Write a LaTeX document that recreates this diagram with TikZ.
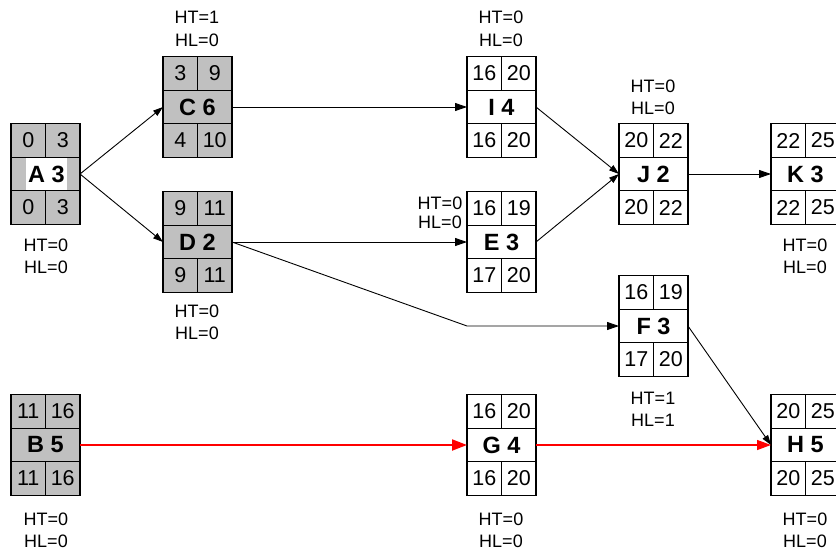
\documentclass[tikz,border=0pt]{standalone}
\usepackage{fontspec}
\setmainfont{Liberation Sans}
\usetikzlibrary{arrows.meta}
\definecolor{boxgray}{HTML}{C0C0C0}
\definecolor{pertred}{HTML}{FF0000}
\tikzset{
 cell/.style={draw=black, line width=1.1pt, minimum width=34.5pt, minimum height=33.5pt, inner sep=0pt, outer sep=0pt, font=\fontsize{21.5}{23}\selectfont},
 midcell/.style={cell, minimum width=69pt, font=\fontsize{23.5}{26}\selectfont\bfseries},
 lbl/.style={font=\fontsize{18}{20}\selectfont, inner sep=0pt},
 arr/.style={draw=black, line width=0.9pt, -{Triangle[length=12pt,width=8pt]}},
 darr/.style={draw=black, line width=0.9pt, -{Triangle[length=10pt,width=6.5pt]}},
 crit/.style={draw=pertred, line width=2pt, -{Triangle[length=15pt,width=11pt,color=pertred]}},
 critthin/.style={draw=pertred, line width=1.3pt, -{Triangle[length=14pt,width=10pt,color=pertred]}},
}
\newcommand\actbox[9]{%
 \node[midcell, fill=#4] (#1) at (#2,#3) {#7};
 \node[cell, fill=#4, anchor=south east] (#1-es) at (#1.north) {#5};
 \node[cell, fill=#4, anchor=south west] (#1-ef) at (#1.north) {#6};
 \node[cell, fill=#4, anchor=north east] (#1-ls) at (#1.south) {#8};
 \node[cell, fill=#4, anchor=north west] (#1-lf) at (#1.south) {#9};
}
\begin{document}
\begin{tikzpicture}[x=1pt,y=-1pt]
\useasboundingbox[fill=white] (0,0) rectangle (836,552);
% boxes
\actbox{A}{45.5}{174}{boxgray}{0}{3}{}{0}{3}
\node[fill=white, minimum width=41pt, minimum height=32pt, inner sep=0pt, font=\fontsize{23.5}{26}\selectfont\bfseries] (A-t) at (46.5,174) {A 3};
\actbox{C}{197.5}{107}{boxgray}{3}{9}{C 6}{4}{10}
\actbox{D}{197.5}{242}{boxgray}{9}{11}{D 2}{9}{11}
\actbox{I}{501.5}{107}{white}{16}{20}{I 4}{16}{20}
\actbox{E}{501.5}{242}{white}{16}{19}{E 3}{17}{20}
\actbox{J}{653.5}{174}{white}{20}{22}{J 2}{20}{22}
\actbox{K}{805.5}{174}{white}{22}{25}{K 3}{22}{25}
\actbox{F}{653.5}{326}{white}{16}{19}{F 3}{17}{20}
\actbox{B}{45.5}{445}{boxgray}{11}{16}{B 5}{11}{16}
\actbox{G}{501.5}{445}{white}{16}{20}{G 4}{16}{20}
\actbox{H}{805.5}{445}{white}{20}{25}{H 5}{20}{25}
% labels
\node[lbl] (A-ht) at (46,245) {HT=0};
\node[lbl] (A-hl) at (46,267) {HL=0};
\node[lbl] (C-ht) at (197,17) {HT=1};
\node[lbl] (C-hl) at (197,40) {HL=0};
\node[lbl] (D-ht) at (197,311) {HT=0};
\node[lbl] (D-hl) at (197,333) {HL=0};
\node[lbl] (I-ht) at (501,17) {HT=0};
\node[lbl] (I-hl) at (501,40) {HL=0};
\node[lbl] (E-ht) at (440,203) {HT=0};
\node[lbl] (E-hl) at (440,222) {HL=0};
\node[lbl] (J-ht) at (653,86) {HT=0};
\node[lbl] (J-hl) at (653,108) {HL=0};
\node[lbl] (K-ht) at (805,245) {HT=0};
\node[lbl] (K-hl) at (805,267) {HL=0};
\node[lbl] (F-ht) at (653,398) {HT=1};
\node[lbl] (F-hl) at (653,420) {HL=1};
\node[lbl] (B-ht) at (46,519) {HT=0};
\node[lbl] (B-hl) at (46,541) {HL=0};
\node[lbl] (G-ht) at (501,519) {HT=0};
\node[lbl] (G-hl) at (501,541) {HL=0};
\node[lbl] (H-ht) at (805,519) {HT=0};
\node[lbl] (H-hl) at (805,541) {HL=0};
% connectors
\coordinate (bend) at (467,326);
\draw[darr] (A.east) -- (C.west);
\draw[darr] (A.east) -- (D.west);
\draw[arr] (C.east) -- (I.west);
\draw[arr] (D.east) -- (E.west);
\draw[arr] (D.east) -- (bend) -- (F.west);
\draw[darr] (I.east) -- (J.west);
\draw[darr] (E.east) -- (J.west);
\draw[arr] (J.east) -- (K.west);
\draw[darr] (F.east) -- (H.west);
\draw[crit] (B.east) -- (G.west);
\draw[critthin] (G.east) -- (H.west);
\end{tikzpicture}
\end{document}
